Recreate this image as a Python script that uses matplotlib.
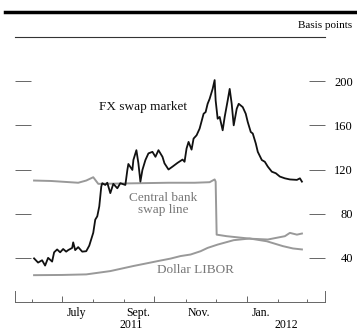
import numpy as np
import pandas as pd
import matplotlib
matplotlib.use('Agg')
import matplotlib.pyplot as plt
import matplotlib.dates as mdates
from matplotlib.lines import Line2D

plt.rcParams['font.family'] = ['Liberation Serif', 'DejaVu Serif']

# FX swap market, basis points
fx_dates = ['2011-06-03','2011-06-07','2011-06-11','2011-06-14','2011-06-17','2011-06-21',
            '2011-06-23','2011-06-26','2011-06-29','2011-07-02','2011-07-05','2011-07-07',
            '2011-07-11','2011-07-12','2011-07-14','2011-07-17','2011-07-21','2011-07-25',
            '2011-07-28','2011-08-01','2011-08-03','2011-08-05','2011-08-07','2011-08-09',
            '2011-08-10','2011-08-13','2011-08-15','2011-08-18','2011-08-21','2011-08-25',
            '2011-08-28','2011-09-02','2011-09-04','2011-09-05','2011-09-09','2011-09-10',
            '2011-09-13','2011-09-15','2011-09-17','2011-09-19','2011-09-22','2011-09-25',
            '2011-09-29','2011-10-02','2011-10-05','2011-10-09','2011-10-11','2011-10-15',
            '2011-10-19','2011-10-24','2011-10-29','2011-10-31','2011-11-02','2011-11-04',
            '2011-11-07','2011-11-09','2011-11-12','2011-11-15','2011-11-19','2011-11-21',
            '2011-11-23','2011-11-25','2011-11-28','2011-11-30','2011-12-01','2011-12-03',
            '2011-12-05','2011-12-08','2011-12-10','2011-12-13','2011-12-15','2011-12-17',
            '2011-12-19','2011-12-22','2011-12-24','2011-12-28','2011-12-31','2012-01-02',
            '2012-01-05','2012-01-07','2012-01-10','2012-01-12','2012-01-16','2012-01-19',
            '2012-01-22','2012-01-26','2012-01-30','2012-02-03','2012-02-08','2012-02-13',
            '2012-02-20','2012-02-23','2012-02-25']
fx_vals = [39.5, 35.7, 37.8, 33, 40, 36.6,
           45, 47.6, 45, 48, 45.6, 47,
           49, 54, 47, 49.7, 45.6, 46,
           51, 62.7, 74.6, 77.6, 86.6, 104.6,
           107.6, 106, 108, 98.6, 107, 103,
           107.6, 106, 119.6, 125, 119.6, 128.6,
           137.5, 125.6, 109, 119.6, 128.6, 134.6,
           136, 131.5, 137.5, 131.5, 125.6, 120,
           122.6, 126, 129, 127, 139, 145,
           138, 148, 151, 157, 170.5, 172,
           179.5, 184, 193, 201, 182.5, 166,
           167.6, 155.5, 167.6, 182.5, 193, 179.5,
           160, 175, 179.5, 176.5, 170.5, 163,
           154, 152.6, 143.6, 136, 128.6, 127,
           122.6, 118, 116.6, 113.6, 112, 111,
           110.6, 112, 109]

# Central bank swap line
cb_dates = ['2011-06-03','2011-06-20','2011-07-17','2011-07-25','2011-08-01','2011-08-06',
            '2011-09-10','2011-10-15','2011-11-10','2011-11-25','2011-11-30','2011-12-01',
            '2011-12-02','2011-12-12','2012-01-05','2012-01-22','2012-02-08','2012-02-13',
            '2012-02-20','2012-02-25']
cb_vals = [110, 109.6, 108, 110, 113, 107,
           107.5, 108, 108, 108.5, 111, 109,
           61, 59.6, 57.3, 56.6, 59.6, 62.6,
           61, 62]

# Dollar LIBOR
libor_dates = ['2011-06-03','2011-07-01','2011-07-25','2011-08-18','2011-09-10','2011-09-27',
               '2011-10-04','2011-10-17','2011-10-27','2011-11-06','2011-11-16','2011-11-23',
               '2011-12-03','2011-12-19','2012-01-04','2012-01-21','2012-02-06','2012-02-16',
               '2012-02-25']
libor_vals = [24.3, 24.5, 25, 28, 32.6, 35.7,
              37, 39.3, 41.6, 43, 46, 49,
              52, 56, 57.5, 55, 50.6, 48.5,
              47.6]

y_ticks = [40, 80, 120, 160, 200]
month_labels = ['July', 'Sept.', 'Nov.', 'Jan.']
month_label_dates = ['2011-07-15', '2011-09-15', '2011-11-14', '2012-01-15']
years = ['2011', '2012']

x_start = pd.Timestamp('2011-05-15')
x_end = pd.Timestamp('2012-03-19')

fig = plt.figure(figsize=(3.57, 3.31), dpi=100)
ax = fig.add_axes([15/357, 29/331, 310/357, 265/331])

gray = '#999999'
ax.plot(pd.to_datetime(cb_dates), cb_vals, color=gray, lw=1.4)
ax.plot(pd.to_datetime(libor_dates), libor_vals, color=gray, lw=1.4)
ax.plot(pd.to_datetime(fx_dates), fx_vals, color='#111111', lw=1.3)

ax.set_xlim(x_start, x_end)
ax.set_ylim(0, 240)

# spines
for s in ['left', 'right']:
    ax.spines[s].set_bounds(0, 10)
    ax.spines[s].set_color('#666666')
    ax.spines[s].set_linewidth(0.7)
ax.spines['bottom'].set_color('#666666')
ax.spines['bottom'].set_linewidth(0.7)
ax.spines['top'].set_color('#333333')
ax.spines['top'].set_linewidth(0.8)

# y ticks on both sides, inward, labels right side
ax.set_yticks(y_ticks)
ax.yaxis.set_ticks_position('both')
ax.tick_params(axis='y', direction='in', length=11.5, width=0.7, color='#666666',
               labelleft=False, labelright=True, pad=20, labelsize=9)
for lab in ax.get_yticklabels():
    lab.set_ha('right')

# x ticks: months minor, quarters major
ax.xaxis.set_major_locator(mdates.MonthLocator(bymonth=[1, 4, 7, 10]))
ax.xaxis.set_minor_locator(mdates.MonthLocator())
ax.tick_params(axis='x', which='major', direction='in', length=4, width=0.7,
               color='#666666', labelbottom=False)
ax.tick_params(axis='x', which='minor', direction='in', length=2.2, width=0.7,
               color='#666666')

trans = ax.get_xaxis_transform()
for lab, d in zip(month_labels, month_label_dates):
    ax.text(pd.Timestamp(d), -11/265, lab, transform=trans, ha='center', va='center',
            fontsize=8.5)
# year labels centred over the part of the axis in each year
yr_mid_2011 = x_start + (pd.Timestamp('2012-01-01') - x_start) / 2
yr_mid_2012 = pd.Timestamp('2012-01-01') + (x_end - pd.Timestamp('2012-01-01')) / 2
for lab, d in zip(years, [yr_mid_2011, yr_mid_2012]):
    ax.text(d, -23.5/265, lab, transform=trans, ha='center', va='center', fontsize=8.5)

# series labels
ax.text(pd.Timestamp('2011-09-20'), 176.6, 'FX swap market', ha='center', va='center',
        fontsize=9.5, color='#111111')
ax.text(pd.Timestamp('2011-10-10'), 88.8, 'Central bank\nswap line', ha='center',
        va='center', fontsize=9.5, color='#777777', linespacing=0.95)
ax.text(pd.Timestamp('2011-11-11'), 29, 'Dollar LIBOR', ha='center', va='center',
        fontsize=9.5, color='#777777')

# header
fig.add_artist(Line2D([5/357, 1.0], [1 - 12/331, 1 - 12/331], color='black', lw=2.5))
fig.text(352/357, 1 - 28/331, 'Basis points', ha='right', va='baseline', fontsize=8)

fig.savefig('out.png', dpi=100)
